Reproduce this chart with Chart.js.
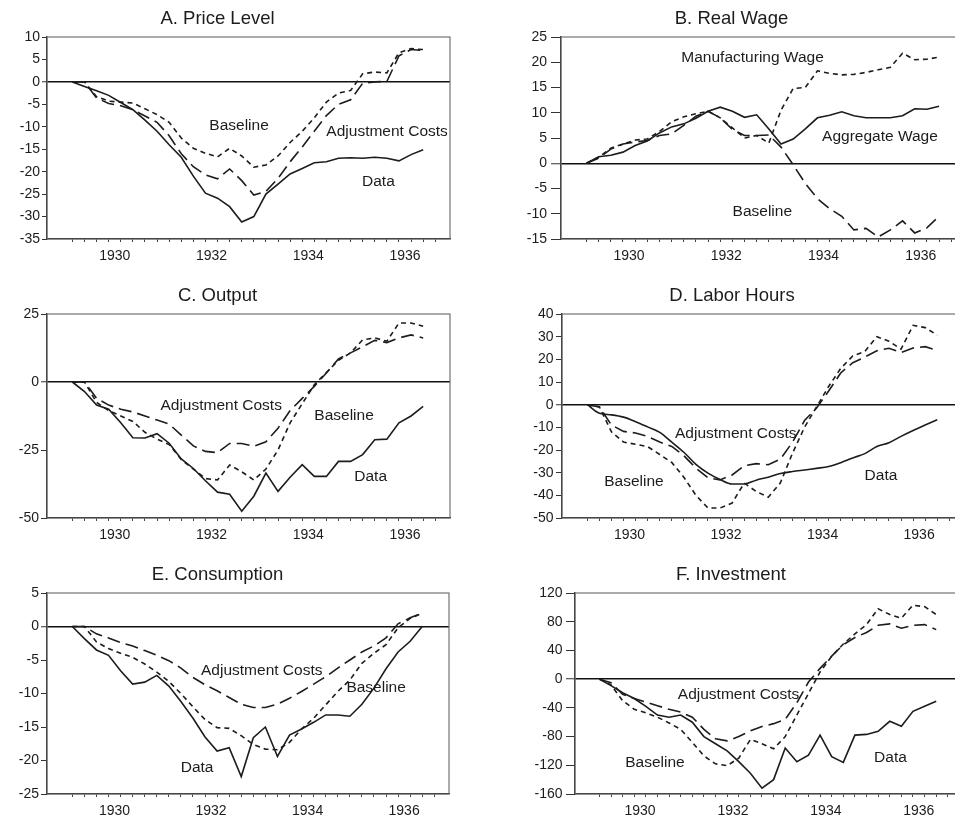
<!DOCTYPE html>
<html><head><meta charset="utf-8">
<script src="https://cdn.jsdelivr.net/npm/chart.js@4.4.1/dist/chart.umd.min.js"></script>
<style>
html,body{margin:0;padding:0;background:#fff;overflow:hidden;width:955px;height:821px;position:relative;}
canvas{position:absolute;}
</style></head><body>
<canvas id="pA"></canvas><canvas id="pB"></canvas><canvas id="pC"></canvas>
<canvas id="pD"></canvas><canvas id="pE"></canvas><canvas id="pF"></canvas>
<script>
// Quarterly dates (decimal years) 
const dates = [1929.125,1929.375,1929.625,1929.875,1930.125,1930.375,1930.625,1930.875,
  1931.125,1931.375,1931.625,1931.875,1932.125,1932.375,1932.625,1932.875,
  1933.125,1933.375,1933.625,1933.875,1934.125,1934.375,1934.625,1934.875,
  1935.125,1935.375,1935.625,1935.875,1936.125,1936.375];
const quarterTicks = [...dates, 1936.625];
const yearLabels = ['1930','1932','1934','1936'];

// A. Price Level
const priceData     = [0,-1,-2,-3,-4.6,-6.2,-8.5,-11,-14,-16.8,-21,-24.8,-25.9,-27.8,-31.2,-30,-25,-22.8,-20.5,-19.3,-18,-17.8,-17,-16.9,-17,-16.8,-17,-17.6,-16.2,-15.1];
const priceBaseline = [0,0,-3.3,-4.3,-4.5,-4.7,-6,-7.3,-9,-12.5,-14.8,-15.9,-16.7,-14.8,-16.5,-19,-18.5,-16.5,-13.5,-11,-8,-4.5,-2.5,-1.9,1.8,2.2,2,6.5,7.4,7.2];
const priceAdjust   = [0,0,-3.6,-4.8,-5.3,-6.2,-7.6,-9,-12,-16,-18.9,-20.7,-21.6,-19.4,-22,-25.2,-24.4,-21.5,-17.8,-14.5,-11,-7.5,-5,-4,-0.3,0,0.1,5.8,7.2,7];
const priceNotes = [{text:'Baseline',x:1932.57,y:-9.8},{text:'Adjustment Costs',x:1935.63,y:-11.1},{text:'Data',x:1935.45,y:-22.2}];

// B. Real Wage
const wageAggregate     = [0,1.3,1.6,2.2,3.5,4.4,6,7.2,7.8,8.9,10.3,11.1,10.3,9.1,9.6,6.8,3.8,4.8,6.8,9.0,9.5,10.2,9.4,9.0,9.0,9.0,9.4,10.8,10.7,11.3];
const wageManufacturing = [0,1.2,3.0,3.8,4.6,4.8,6.3,8.2,9.2,9.8,10.3,9.0,7.0,5.0,5.5,4.0,10.5,14.8,15.0,18.3,17.8,17.5,17.6,18.0,18.5,19.0,21.8,20.5,20.6,21.0];
const wageBaseline      = [0,1.0,2.8,3.8,4.2,4.5,5.5,5.8,7.5,9.3,10.3,9.0,6.7,5.5,5.5,5.6,3.2,-0.3,-4,-7,-9,-10.5,-13.2,-12.9,-14.6,-13.2,-11.4,-13.8,-12.8,-10.5];
const wageNotes = [{text:'Manufacturing Wage',x:1932.54,y:20.8},{text:'Aggregate Wage',x:1935.16,y:5.3},{text:'Baseline',x:1932.74,y:-9.5}];

// C. Output
const outputData     = [0,-3.5,-8.5,-10,-15,-20.5,-20.6,-19,-22.5,-28.3,-31.8,-36.3,-40.5,-41.3,-47.5,-42,-33.5,-40.2,-35,-30.4,-34.7,-34.7,-29.2,-29.2,-26.7,-21.2,-21,-15,-12.5,-9];
const outputBaseline = [0,0,-7.5,-10.5,-12.5,-14.5,-18.5,-21,-23,-28.5,-32,-35.5,-36,-30.5,-33,-36,-32,-25,-15,-8,-1,3.5,8,10.7,15.5,16.2,15,21.7,21.7,20.5];
const outputAdjust   = [0,0,-6,-8.5,-10,-11,-12.5,-14,-15.5,-19.5,-23.5,-25.5,-26,-22.6,-22.6,-23.6,-22,-17,-10.5,-6,-1.6,3.3,8.5,10.7,13,15.3,14.5,16.2,17.3,16.2];
const outputNotes = [{text:'Adjustment Costs',x:1932.2,y:-8.7},{text:'Baseline',x:1934.74,y:-12.4},{text:'Data',x:1935.29,y:-34.7}];

// D. Labor Hours
const hoursData     = [0,-3.8,-4.5,-5.5,-7.5,-9.8,-12.2,-16.5,-21,-26.3,-30.2,-33,-35,-35,-33.3,-32,-30.4,-29.5,-28.8,-28.1,-27.3,-25.6,-23.5,-21.6,-18.5,-16.8,-14,-11.4,-9,-6.7];
const hoursBaseline = [0,-1,-12,-16.5,-17.5,-18.5,-22,-25.5,-32,-40,-45.6,-45.6,-43.4,-34.6,-38.3,-40.8,-34.5,-21.5,-10,-1,8,16,21.5,23.5,30,28,24.5,35,34,30.7];
const hoursAdjust   = [0,-1,-9,-11.8,-12.5,-14,-16.5,-18.4,-22.5,-28,-32.3,-33.2,-31,-27,-26,-26.5,-24,-16.6,-7,-1.5,6,14,18.5,21,23.8,24.9,23,25,25.6,24];
const hoursNotes = [{text:'Adjustment Costs',x:1932.2,y:-12.6},{text:'Baseline',x:1930.09,y:-34.1},{text:'Data',x:1935.21,y:-31.2}];

// E. Consumption
const consData     = [0,-1.8,-3.5,-4.3,-6.6,-8.6,-8.3,-7.3,-8.9,-11.2,-13.7,-16.5,-18.6,-18.1,-22.4,-16.6,-15,-19.4,-16.2,-15.3,-14.3,-13.2,-13.2,-13.4,-11.6,-9.2,-6.3,-3.8,-2.2,0];
const consBaseline = [0,0,-2.3,-3.3,-4,-4.6,-5.6,-6.8,-8.2,-10,-12,-13.9,-15.1,-15.2,-16.3,-17.6,-18.3,-18.4,-17.3,-15.3,-13.7,-11.7,-9.7,-8,-5.5,-4,-2.7,-0.2,1.2,2];
const consAdjust   = [0,0,-1.1,-1.7,-2.4,-2.9,-3.6,-4.3,-5.1,-6.2,-7.6,-8.7,-9.6,-10.6,-11.6,-12.1,-12.1,-11.6,-10.7,-9.7,-8.6,-7.5,-6.2,-5,-3.8,-2.9,-1.7,0.4,1.3,2];
const consNotes = [{text:'Adjustment Costs',x:1933.05,y:-6.6},{text:'Baseline',x:1935.42,y:-9.1},{text:'Data',x:1931.71,y:-21.1}];

// F. Investment
const invData     = [0,-9,-19,-27,-38,-50,-53,-50,-60,-80,-90,-100,-115,-131,-152,-140,-96,-115,-106,-78,-108,-116,-78,-77,-72.7,-58.7,-65.5,-44.8,-37.8,-30.9];
const invBaseline = [0,-8,-30,-42,-47,-53,-61,-70,-88,-107,-118,-120.5,-110,-84,-90,-97,-80,-50,-20,10,32,49,63,76,98,90,85,103,101,90];
const invAdjust   = [0,-5,-21,-27,-32,-37,-42,-46,-53,-70,-83,-86,-80,-72,-66,-62,-56,-33,-4,15,32,48,58,65,75,77,71,75,76,69];
const invNotes = [{text:'Adjustment Costs',x:1932.12,y:-21.6},{text:'Baseline',x:1930.32,y:-116.8},{text:'Data',x:1935.39,y:-109.8}];

const INK = '#1c1c1c';
const FONT = "'Liberation Sans', Arial, Helvetica, sans-serif";
const SOLID = [], SHORT = [5,4], LONG = [13,6];
const X_MIN = 1928.6, X_MAX = 1936.93;
const yearValues = yearLabels.map(Number);
const xTickValues = [...quarterTicks, ...yearValues].sort((a,b)=>a-b);

const panels = [
  {id:'pA', title:'A. Price Level', left:0, top:0, w:470, h:270, yW:47, padR:20, yMin:-35, yMax:10, yStep:5, tickLen:5, tickPad:2, titleDx:170.5,
   series:[{values:priceData,dash:SOLID},{values:priceBaseline,dash:SHORT},{values:priceAdjust,dash:LONG}], notes:priceNotes},
  {id:'pB', title:'B. Real Wage', left:475, top:0, w:500, h:270, yW:86, padR:9, yMin:-15, yMax:25, yStep:5, tickLen:10, tickPad:4, titleDx:170.5,
   series:[{values:wageAggregate,dash:SOLID},{values:wageManufacturing,dash:SHORT},{values:wageBaseline,dash:LONG}], notes:wageNotes},
  {id:'pC', title:'C. Output', left:0, top:277, w:470, h:272, yW:47, padR:20, yMin:-50, yMax:25, yStep:25, tickLen:6, tickPad:2, titleDx:170.5,
   series:[{values:outputData,dash:SOLID},{values:outputBaseline,dash:SHORT},{values:outputAdjust,dash:LONG}], notes:outputNotes},
  {id:'pD', title:'D. Labor Hours', left:475, top:277, w:500, h:272, yW:87, padR:11, yMin:-50, yMax:40, yStep:10, tickLen:6, tickPad:2.5, titleDx:170,
   series:[{values:hoursData,dash:SOLID,smooth:true},{values:hoursBaseline,dash:SHORT},{values:hoursAdjust,dash:LONG}], notes:hoursNotes},
  {id:'pE', title:'E. Consumption', left:0, top:556, w:470, h:269, yW:47, padR:21, yMin:-25, yMax:5, yStep:5, tickLen:6, tickPad:2, titleDx:170.5,
   series:[{values:consData,dash:SOLID},{values:consBaseline,dash:SHORT},{values:consAdjust,dash:LONG}], notes:consNotes},
  {id:'pF', title:'F. Investment', left:475, top:556, w:500, h:269, yW:100, padR:13, yMin:-160, yMax:120, yStep:40, tickLen:9, tickPad:3.5, titleDx:156,
   series:[{values:invData,dash:SOLID},{values:invBaseline,dash:SHORT},{values:invAdjust,dash:LONG}], notes:invNotes}
];

function framePlugin(p){
  return {
    id:'frame_'+p.id,
    beforeDatasetsDraw(chart){
      const {ctx, chartArea:a} = chart;
      ctx.save();
      ctx.strokeStyle = '#666'; ctx.lineWidth = 1.1;
      ctx.strokeRect(a.left, a.top, a.right - a.left, a.bottom - a.top);
      ctx.restore();
    },
    afterDraw(chart){
      const {ctx, chartArea:a, scales} = chart;
      ctx.save();
      ctx.fillStyle = INK;
      ctx.textAlign = 'center'; ctx.textBaseline = 'middle';
      ctx.font = '15.5px ' + FONT;
      p.notes.forEach(n => {
        ctx.fillText(n.text, scales.x.getPixelForValue(n.x), scales.y.getPixelForValue(n.y));
      });
      ctx.font = '18.5px ' + FONT;
      ctx.fillText(p.title, a.left + p.titleDx, a.top - 18.5);
      ctx.restore();
    }
  };
}

function makePanel(p){
  const cv = document.getElementById(p.id);
  cv.width = p.w; cv.height = p.h;
  cv.style.left = p.left + 'px'; cv.style.top = p.top + 'px';
  cv.style.width = p.w + 'px'; cv.style.height = p.h + 'px';
  new Chart(cv, {
    type:'line',
    data:{datasets: p.series.map(s => ({
      data: dates.map((d,i) => ({x:d, y:s.values[i]})),
      borderColor: INK, borderWidth: 1.6, borderDash: s.dash,
      pointRadius: 0, fill: false, tension: s.smooth ? 0.4 : 0,
      cubicInterpolationMode: s.smooth ? 'monotone' : 'default'
    }))},
    options:{
      responsive:false, animation:false, devicePixelRatio:1,
      layout:{padding:{top:37, left:0, right:p.padR, bottom:0}},
      plugins:{legend:{display:false}, tooltip:{enabled:false}, title:{display:false}},
      scales:{
        x:{
          type:'linear', min:X_MIN, max:X_MAX,
          afterBuildTicks: s => { s.ticks = xTickValues.map(v => ({value:v})); },
          afterFit: s => { s.height = 31; },
          grid:{drawOnChartArea:false, drawTicks:true, tickLength:3, tickWidth:1,
                tickColor: c => (c.tick && yearValues.includes(c.tick.value)) ? 'rgba(0,0,0,0)' : '#444'},
          border:{display:true, color:'#222', width:1.3},
          ticks:{autoSkip:false, maxRotation:0, minRotation:0, padding:6, color:INK,
                 font:{family:FONT, size:14},
                 callback: v => { const k = yearValues.indexOf(v); return k >= 0 ? yearLabels[k] : ''; }}
        },
        y:{
          min:p.yMin, max:p.yMax,
          afterFit: s => { s.width = p.yW; },
          ticks:{stepSize:p.yStep, padding:p.tickPad, color:INK, font:{family:FONT, size:14}},
          grid:{drawOnChartArea:true, drawTicks:true, tickLength:p.tickLen, tickColor:'#333', tickWidth:1,
                color: c => (c.tick && c.tick.value === 0) ? '#111' : 'rgba(0,0,0,0)',
                lineWidth: c => (c.tick && c.tick.value === 0) ? 1.5 : 1},
          border:{display:true, color:'#222', width:1.3}
        }
      }
    },
    plugins:[framePlugin(p)]
  });
}
panels.forEach(makePanel);
</script>
</body></html>
